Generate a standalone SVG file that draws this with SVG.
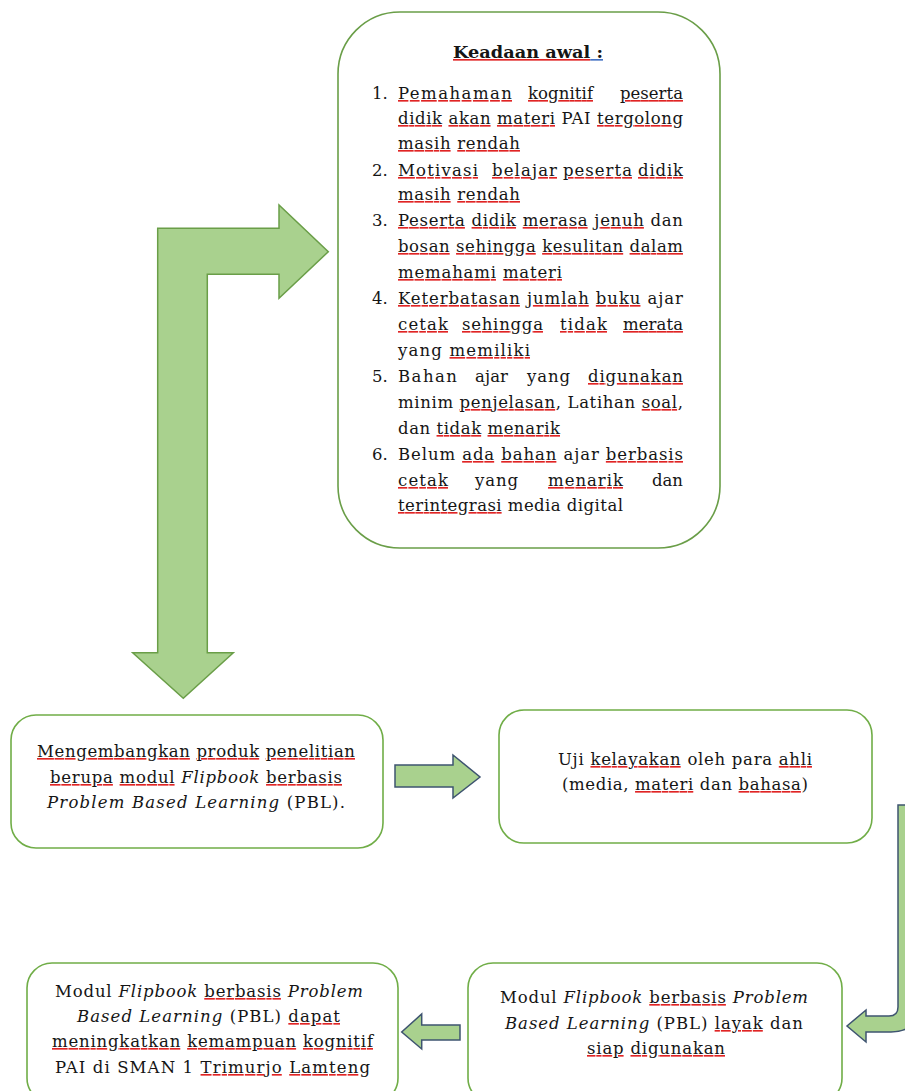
<svg xmlns="http://www.w3.org/2000/svg" width="905" height="1091" viewBox="0 0 905 1091">
<style>
.bg{fill:#ffffff}
.box{fill:#ffffff;stroke:#70AD47;stroke-width:1.6}
.boxt{fill:#ffffff;stroke:#6A9E48;stroke-width:1.6}
.arr-g{fill:#A9D18E;stroke:#6A9E48;stroke-width:1.5;stroke-linejoin:miter}
.arr-b{fill:#A9D18E;stroke:#3E5470;stroke-width:1.5;stroke-linejoin:miter}
.t{font-family:"DejaVu Serif","Liberation Serif",serif;font-size:16.5px;fill:#151515}
.b{font-weight:bold}
.i{font-style:italic}
.u{fill:#e02424;text-decoration:underline;text-decoration-style:wavy}
.u tspan{fill:#151515}
.ub{fill:#4472C4;text-decoration:underline;text-decoration-style:double}
.ub tspan{fill:#151515}
</style>
<rect class="bg" x="0" y="0" width="905" height="1091"/>

<g id="connectors">
  <path class="arr-g" d="M157.7,228.3 L279,228.3 L279,205 L328.3,251.7 L279,298.3 L279,274.3 L207.3,274.3 L207.3,652.7 L233.3,652.7 L183.3,698.3 L132.7,652.7 L157.7,652.7 Z"/>
  <path class="arr-b" d="M395,765 L453,765 L453,755 L480,777 L453,798 L453,787 L395,787 Z"/>
  <path class="arr-b" d="M898,805 L918,805 L918,1005 Q918,1032 891,1032 L866,1032 L866,1042 L847,1026 L866,1010 L866,1016 L889,1016 Q898,1016 898,1007 Z"/>
  <path class="arr-b" d="M460,1025 L421.7,1025 L421.7,1014 L401.7,1032 L421.7,1049 L421.7,1040 L460,1040 Z"/>
</g>

<g id="node-keadaan-awal">
  <rect class="boxt" x="338" y="12" width="382" height="536" rx="62" ry="62"/>
  <text class="t b" x="453" y="58" textLength="150" lengthAdjust="spacingAndGlyphs"><tspan class="u"><tspan>Keadaan awal</tspan></tspan><tspan class="ub"><tspan> :</tspan></tspan></text>

  <text class="t" x="372" y="99">1.</text>
  <text class="t" x="398" y="99" textLength="114" lengthAdjust="spacing"><tspan class="u"><tspan>Pemahaman</tspan></tspan></text>
  <text class="t" x="528" y="99" textLength="65" lengthAdjust="spacing"><tspan class="u"><tspan>kognitif</tspan></tspan></text>
  <text class="t" x="620" y="99" textLength="63" lengthAdjust="spacing"><tspan class="u"><tspan>peserta</tspan></tspan></text>
  <text class="t" x="398" y="124" textLength="285" lengthAdjust="spacing"><tspan class="u"><tspan>didik</tspan></tspan> <tspan class="u"><tspan>akan</tspan></tspan> <tspan class="u"><tspan>materi</tspan></tspan> PAI <tspan class="u"><tspan>tergolong</tspan></tspan></text>
  <text class="t" x="398" y="149" textLength="122" lengthAdjust="spacing"><tspan class="u"><tspan>masih</tspan></tspan> <tspan class="u"><tspan>rendah</tspan></tspan></text>

  <text class="t" x="372" y="176">2.</text>
  <text class="t" x="398" y="176" textLength="80" lengthAdjust="spacing"><tspan class="u"><tspan>Motivasi</tspan></tspan></text>
  <text class="t" x="492" y="176" textLength="65" lengthAdjust="spacing"><tspan class="u"><tspan>belajar</tspan></tspan></text>
  <text class="t" x="563" y="176" textLength="69" lengthAdjust="spacing"><tspan class="u"><tspan>peserta</tspan></tspan></text>
  <text class="t" x="638" y="176" textLength="45" lengthAdjust="spacing"><tspan class="u"><tspan>didik</tspan></tspan></text>
  <text class="t" x="398" y="200" textLength="122" lengthAdjust="spacing"><tspan class="u"><tspan>masih</tspan></tspan> <tspan class="u"><tspan>rendah</tspan></tspan></text>

  <text class="t" x="372" y="226">3.</text>
  <text class="t" x="398" y="226" textLength="285" lengthAdjust="spacing"><tspan class="u"><tspan>Peserta</tspan></tspan> <tspan class="u"><tspan>didik</tspan></tspan> <tspan class="u"><tspan>merasa</tspan></tspan> <tspan class="u"><tspan>jenuh</tspan></tspan> dan</text>
  <text class="t" x="398" y="252" textLength="285" lengthAdjust="spacing"><tspan class="u"><tspan>bosan</tspan></tspan> <tspan class="u"><tspan>sehingga</tspan></tspan> <tspan class="u"><tspan>kesulitan</tspan></tspan> <tspan class="u"><tspan>dalam</tspan></tspan></text>
  <text class="t" x="398" y="278" textLength="164" lengthAdjust="spacing"><tspan class="u"><tspan>memahami</tspan></tspan> <tspan class="u"><tspan>materi</tspan></tspan></text>

  <text class="t" x="372" y="304">4.</text>
  <text class="t" x="398" y="304" textLength="285" lengthAdjust="spacing"><tspan class="u"><tspan>Keterbatasan</tspan></tspan> <tspan class="u"><tspan>jumlah</tspan></tspan> <tspan class="u"><tspan>buku</tspan></tspan> ajar</text>
  <text class="t" x="398" y="330" textLength="50" lengthAdjust="spacing"><tspan class="u"><tspan>cetak</tspan></tspan></text>
  <text class="t" x="462" y="330" textLength="81" lengthAdjust="spacing"><tspan class="u"><tspan>sehingga</tspan></tspan></text>
  <text class="t" x="560" y="330" textLength="47" lengthAdjust="spacing"><tspan class="u"><tspan>tidak</tspan></tspan></text>
  <text class="t" x="623" y="330" textLength="60" lengthAdjust="spacing"><tspan class="u"><tspan>merata</tspan></tspan></text>
  <text class="t" x="398" y="356" textLength="132" lengthAdjust="spacing">yang <tspan class="u"><tspan>memiliki</tspan></tspan></text>

  <text class="t" x="372" y="382">5.</text>
  <text class="t" x="398" y="382" textLength="59" lengthAdjust="spacing">Bahan</text>
  <text class="t" x="475" y="382" textLength="33" lengthAdjust="spacing">ajar</text>
  <text class="t" x="527" y="382" textLength="43" lengthAdjust="spacing">yang</text>
  <text class="t" x="588" y="382" textLength="95" lengthAdjust="spacing"><tspan class="u"><tspan>digunakan</tspan></tspan></text>
  <text class="t" x="398" y="408" textLength="285" lengthAdjust="spacing">minim <tspan class="u"><tspan>penjelasan</tspan></tspan>, Latihan <tspan class="u"><tspan>soal</tspan></tspan>,</text>
  <text class="t" x="398" y="434" textLength="162" lengthAdjust="spacing">dan <tspan class="u"><tspan>tidak</tspan></tspan> <tspan class="u"><tspan>menarik</tspan></tspan></text>

  <text class="t" x="372" y="460">6.</text>
  <text class="t" x="398" y="460" textLength="285" lengthAdjust="spacing">Belum <tspan class="u"><tspan>ada</tspan></tspan> <tspan class="u"><tspan>bahan</tspan></tspan> ajar <tspan class="u"><tspan>berbasis</tspan></tspan></text>
  <text class="t" x="398" y="486" textLength="50" lengthAdjust="spacing"><tspan class="u"><tspan>cetak</tspan></tspan></text>
  <text class="t" x="475" y="486" textLength="43" lengthAdjust="spacing">yang</text>
  <text class="t" x="548" y="486" textLength="75" lengthAdjust="spacing"><tspan class="u"><tspan>menarik</tspan></tspan></text>
  <text class="t" x="652" y="486" textLength="31" lengthAdjust="spacing">dan</text>
  <text class="t" x="398" y="511" textLength="225" lengthAdjust="spacing"><tspan class="u"><tspan>terintegrasi</tspan></tspan> media digital</text>
</g>

<g id="node-mengembangkan">
  <rect class="box" x="11" y="715" width="372" height="133" rx="25" ry="25"/>
  <text class="t" x="37" y="757" textLength="318" lengthAdjust="spacing"><tspan class="u"><tspan>Mengembangkan</tspan></tspan> <tspan class="u"><tspan>produk</tspan></tspan> <tspan class="u"><tspan>penelitian</tspan></tspan></text>
  <text class="t" x="50" y="783" textLength="292" lengthAdjust="spacing"><tspan class="u"><tspan>berupa</tspan></tspan> <tspan class="u"><tspan>modul</tspan></tspan> <tspan class="i">Flipbook</tspan> <tspan class="u"><tspan>berbasis</tspan></tspan></text>
  <text class="t" x="47" y="808" textLength="298" lengthAdjust="spacing"><tspan class="i">Problem Based Learning</tspan> (PBL).</text>
</g>

<g id="node-uji-kelayakan">
  <rect class="box" x="499" y="710" width="373" height="133" rx="25" ry="25"/>
  <text class="t" x="558" y="765" textLength="254" lengthAdjust="spacing">Uji <tspan class="u"><tspan>kelayakan</tspan></tspan> oleh para <tspan class="u"><tspan>ahli</tspan></tspan></text>
  <text class="t" x="562" y="790" textLength="246" lengthAdjust="spacing">(media, <tspan class="u"><tspan>materi</tspan></tspan> dan <tspan class="u"><tspan>bahasa</tspan></tspan>)</text>
</g>

<g id="node-layak">
  <rect class="box" x="468" y="963" width="374" height="140" rx="25" ry="25"/>
  <text class="t" x="500" y="1003" textLength="308" lengthAdjust="spacing">Modul <tspan class="i">Flipbook</tspan> <tspan class="u"><tspan>berbasis</tspan></tspan> <tspan class="i">Problem</tspan></text>
  <text class="t" x="505" y="1029" textLength="298" lengthAdjust="spacing"><tspan class="i">Based Learning</tspan> (PBL) <tspan class="u"><tspan>layak</tspan></tspan> dan</text>
  <text class="t" x="587" y="1054" textLength="138" lengthAdjust="spacing"><tspan class="u"><tspan>siap</tspan></tspan> <tspan class="u"><tspan>digunakan</tspan></tspan></text>
</g>

<g id="node-meningkatkan">
  <rect class="box" x="27" y="963" width="371" height="140" rx="25" ry="25"/>
  <text class="t" x="55" y="997" textLength="308" lengthAdjust="spacing">Modul <tspan class="i">Flipbook</tspan> <tspan class="u"><tspan>berbasis</tspan></tspan> <tspan class="i">Problem</tspan></text>
  <text class="t" x="77" y="1022" textLength="263" lengthAdjust="spacing"><tspan class="i">Based Learning</tspan> (PBL) <tspan class="u"><tspan>dapat</tspan></tspan></text>
  <text class="t" x="52" y="1047" textLength="321" lengthAdjust="spacing"><tspan class="u"><tspan>meningkatkan</tspan></tspan> <tspan class="u"><tspan>kemampuan</tspan></tspan> <tspan class="u"><tspan>kognitif</tspan></tspan></text>
  <text class="t" x="55" y="1073" textLength="315" lengthAdjust="spacing">PAI di SMAN 1 <tspan class="u"><tspan>Trimurjo</tspan></tspan> <tspan class="u"><tspan>Lamteng</tspan></tspan></text>
</g>
</svg>
